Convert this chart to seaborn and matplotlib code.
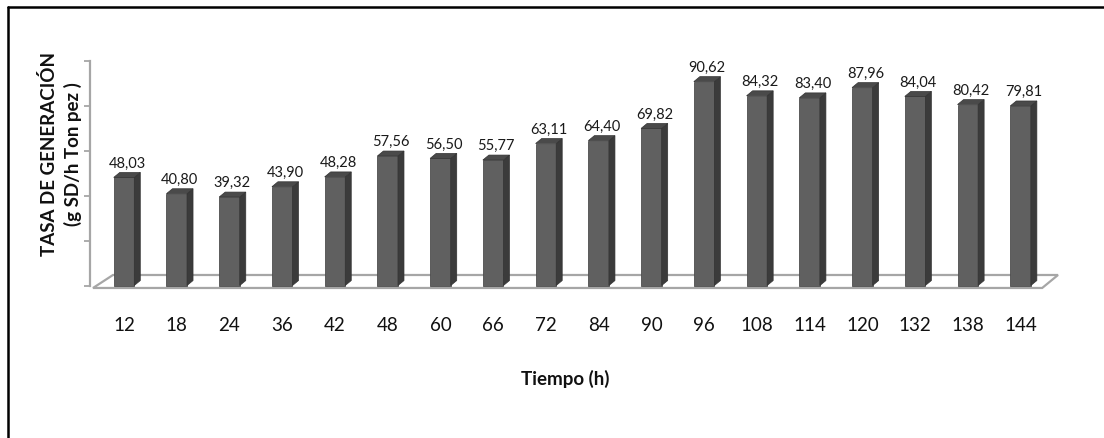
import matplotlib
matplotlib.use("Agg")
import matplotlib.pyplot as plt
from matplotlib.patches import Polygon
from matplotlib.lines import Line2D
import seaborn as sns
import pandas as pd

# ---- data ----
tiempos = ["12", "18", "24", "36", "42", "48", "60", "66", "72", "84",
           "90", "96", "108", "114", "120", "132", "138", "144"]
tasa = [48.03, 40.80, 39.32, 43.90, 48.28, 57.56, 56.50, 55.77, 63.11, 64.40,
        69.82, 90.62, 84.32, 83.40, 87.96, 84.04, 80.42, 79.81]
y_ticks = [0, 20, 40, 60, 80, 100]
x_title = "Tiempo (h)"
y_title = "TASA DE GENERACIÓN\n(g SD/h Ton pez )"

sns.set_theme(style="white")
plt.rcParams["font.family"] = ["Lato", "DejaVu Sans"]

W, H = 1104, 439
fig = plt.figure(figsize=(W / 100, H / 100), dpi=100)
fig.patch.set_facecolor("white")

# axes placement (pixel-based)
ax = fig.add_axes([87.08 / W, (H - 293.25) / H, 970.4 / W, 231.75 / H])
ax.set_facecolor("none")

df = pd.DataFrame({"t": tiempos, "v": tasa})
front = "#606060"
side = "#3b3b3b"
topc = "#4a4a4a"

sns.barplot(data=df, x="t", y="v", order=tiempos, color=front, saturation=1,
            width=0.39, ax=ax, zorder=3, edgecolor="#4d4d4d", linewidth=0.6)

ax.set_xlim(-0.7, 17.7)
ax.set_ylim(-3, 100)

# floor (decoration)
floor = Polygon([(-0.588, -1.1), (17.41, -1.1), (17.71, 4.67), (-0.209, 4.67)],
                closed=True, facecolor="white", edgecolor="#a6a6a6", lw=1.6,
                zorder=1, clip_on=False)
ax.add_patch(floor)

# 3D faces derived from bar patches
dx, dy = 0.114, 2.2
for p in list(ax.patches):
    if p is floor:
        continue
    x0 = p.get_x()
    w = p.get_width()
    h = p.get_height()
    if w <= 0:
        continue
    sidep = Polygon([(x0 + w, 0), (x0 + w, h), (x0 + w + dx, h + dy), (x0 + w + dx, dy)],
                    closed=True, facecolor=side, edgecolor="#333333", lw=0.5, zorder=3)
    topp = Polygon([(x0, h), (x0 + w, h), (x0 + w + dx, h + dy), (x0 + dx, h + dy)],
                   closed=True, facecolor=topc, edgecolor="#333333", lw=0.5, zorder=3)
    ax.add_patch(sidep)
    ax.add_patch(topp)
    lab = f"{h:.2f}".replace(".", ",")
    ax.annotate(lab, (x0 + w / 2 + dx / 2, h + dy), xytext=(0, 2),
                textcoords="offset points", ha="center", va="bottom",
                fontsize=10.5, color="#1a1a1a", zorder=5)

# spines / ticks
for s in ["top", "right", "bottom"]:
    ax.spines[s].set_visible(False)
ax.spines["left"].set_bounds(0, 100)
ax.spines["left"].set_position(("data", -0.645))
ax.spines["left"].set_color("#a6a6a6")
ax.spines["left"].set_linewidth(1.6)
ax.set_yticks(y_ticks)
ax.set_yticklabels([""] * len(y_ticks))
ax.tick_params(axis="y", left=True, length=4, width=1.3, color="#a6a6a6")
ax.tick_params(axis="x", bottom=False, length=0, pad=17, labelsize=13.5,
               labelcolor="#111111")
ax.set_xlabel("")
ax.set_ylabel("")

fig.text(565 / W, (H - 379) / H, x_title, ha="center", va="center",
         fontsize=13.5, fontweight="bold", color="#111111")
fig.text(61 / W, (H - 154) / H, y_title, ha="center", va="center", rotation=90,
         fontsize=13.5, fontweight="bold", color="#111111", linespacing=1.4,
         multialignment="center")

# outer border (top and left only)
fig.add_artist(Line2D([7.5 / W, 1], [1 - 7.5 / H, 1 - 7.5 / H],
                      transform=fig.transFigure, color="black", lw=1.8))
fig.add_artist(Line2D([7.5 / W, 7.5 / W], [0, 1 - 7.5 / H],
                      transform=fig.transFigure, color="black", lw=1.8))

fig.savefig("out.png", dpi=100)
